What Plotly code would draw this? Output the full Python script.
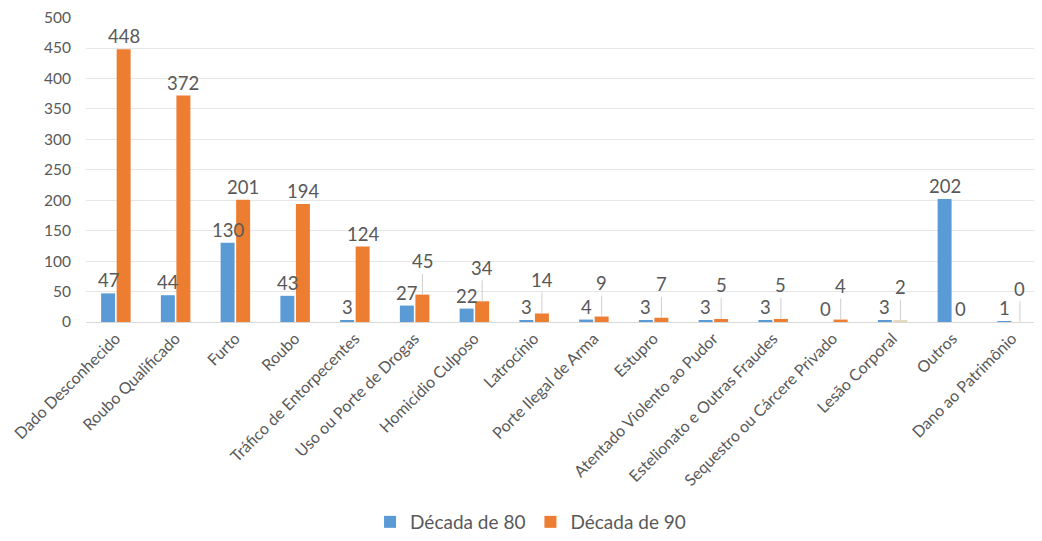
import plotly.graph_objects as go

categories = [
    "Dado Desconhecido", "Roubo Qualificado", "Furto", "Roubo",
    "Tráfico de Entorpecentes", "Uso ou Porte de Drogas", "Homicídio Culposo",
    "Latrocínio", "Porte Ilegal de Arma", "Estupro",
    "Atentado Violento ao Pudor", "Estelionato e Outras Fraudes",
    "Sequestro ou Cárcere Privado", "Lesão Corporal", "Outros",
    "Dano ao Patrimônio",
]
decada_80 = [47, 44, 130, 43, 3, 27, 22, 3, 4, 3, 3, 3, 0, 3, 202, 1]
decada_90 = [448, 372, 201, 194, 124, 45, 34, 14, 9, 7, 5, 5, 4, 2, 0, 0]
y_ticks = [0, 50, 100, 150, 200, 250, 300, 350, 400, 450, 500]

BLUE = "#5B9BD5"
ORANGE = "#ED7D31"
TEXT = "#595959"
FONT = "Lato"

# one odd pale bar in the source (Lesão Corporal, 90s)
orange_colors = [ORANGE] * len(categories)
orange_colors[categories.index("Lesão Corporal")] = "#E6D9BC"

fig = go.Figure()
fig.add_trace(go.Bar(x=categories, y=decada_80, name="Década de 80",
                     marker=dict(color=BLUE, line_width=0)))
fig.add_trace(go.Bar(x=categories, y=decada_90, name="Década de 90",
                     marker=dict(color=orange_colors, line_width=0)))

slot = 7.8  # pixel offset of each bar from the category centre
annotations = []
for c, b, o in zip(categories, decada_80, decada_90):
    annotations.append(dict(
        x=c, y=b, text=str(b), showarrow=False, yanchor="bottom",
        xshift=-slot, yshift=0, font=dict(size=18.5, color=TEXT, family=FONT)))
    if o < 100 and b < 100:
        # lifted label with a leader line down to the bar
        annotations.append(dict(
            x=c, y=o, text=str(o), showarrow=True, arrowhead=0,
            arrowwidth=1, arrowcolor="#CFCFCF", axref="pixel", ax=0,
            ayref="y", ay=o + 55, xshift=slot, standoff=0,
            font=dict(size=18.5, color=TEXT, family=FONT)))
    else:
        annotations.append(dict(
            x=c, y=o, text=str(o), showarrow=False, yanchor="bottom",
            xshift=slot, yshift=0, font=dict(size=18.5, color=TEXT, family=FONT)))

fig.update_layout(
    width=1034, height=533,
    margin=dict(l=78, r=0, t=9, b=218),
    plot_bgcolor="white", paper_bgcolor="white",
    barmode="group", bargap=0.48, bargroupgap=0.1,
    font=dict(family=FONT, color=TEXT),
    annotations=annotations,
    showlegend=True,
    legend=dict(orientation="h", x=0.465, xanchor="center", y=-0.655,
                yanchor="middle", font=dict(size=19, color=TEXT)),
)
fig.update_xaxes(tickangle=-45, tickfont=dict(size=16, color=TEXT),
                 showline=True, linecolor="#D9D9D9", linewidth=1,
                 showgrid=False, ticks="")
fig.update_yaxes(range=[0, 501], tickmode="array", tickvals=y_ticks,
                 showgrid=True, gridcolor="#E6E6E6", zeroline=False,
                 tickfont=dict(size=15.5, color=TEXT), ticklabelstandoff=14,
                 ticklabeloverflow="allow", automargin=False)

fig.write_html("out.html")
